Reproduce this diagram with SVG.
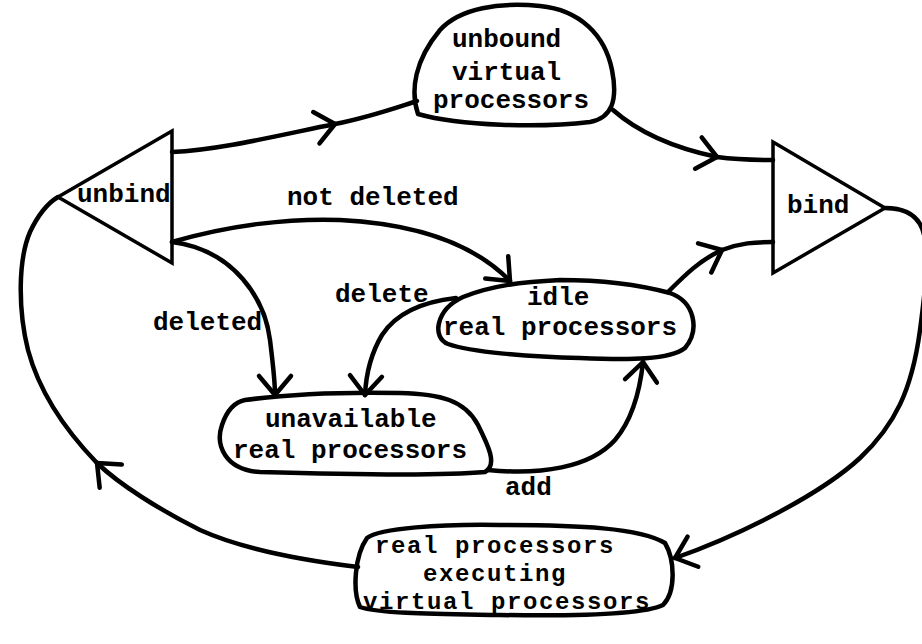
<svg xmlns="http://www.w3.org/2000/svg" width="922" height="644" viewBox="0 0 922 644">
  <style>
    .bg { fill: #ffffff; }
    .blob { fill: none; stroke: #000; stroke-width: 4.5; stroke-linejoin: round; }
    .tri { fill: none; stroke: #000; stroke-width: 3.5; stroke-linejoin: miter; }
    .edge { fill: none; stroke: #000; stroke-width: 4.5; stroke-linecap: round; stroke-linejoin: round; }
    .lbl { font-family: "Liberation Mono", "DejaVu Sans Mono", monospace; font-weight: bold; font-size: 26px; fill: #000; }
    .lbl.tight { font-size: 24px; letter-spacing: 1.6px; }
  </style>
  <defs>
    <marker id="arrow" markerUnits="userSpaceOnUse" viewBox="-24 -24 28 48" markerWidth="28" markerHeight="48" refX="0" refY="0" orient="auto" overflow="visible">
      <path d="M-19,-16 L0,0 L-19,16" fill="none" stroke="#000" stroke-width="4.5" stroke-linecap="round" stroke-linejoin="round"/>
    </marker>
  </defs>

  <rect class="bg" x="0" y="0" width="922" height="644"/>

  <!-- connectors -->
  <g id="connectors">
    <!-- unbind -> unbound virtual processors -->
    <path class="edge" d="M172,152 C220,150 280,135 335,124" marker-end="url(#arrow)"/>
    <path class="edge" d="M335,124 C370,117 395,108 417,101"/>
    <!-- unbound virtual processors -> bind -->
    <path class="edge" d="M613,110 C630,125 660,145 717,157" marker-end="url(#arrow)"/>
    <path class="edge" d="M717,157 C740,160 760,160 773,160"/>
    <!-- unbind -> idle (not deleted) -->
    <path class="edge" d="M172,242 C230,225 290,218 340,220 C420,224 475,245 510,281" marker-end="url(#arrow)"/>
    <!-- unbind -> unavailable (deleted) -->
    <path class="edge" d="M172,242 C235,250 265,300 270,340 C273,365 275,380 275,395" marker-end="url(#arrow)"/>
    <!-- idle -> unavailable (delete) -->
    <path class="edge" d="M456,298 C420,302 395,315 382,335 C370,355 366,375 365,395" marker-end="url(#arrow)"/>
    <!-- unavailable -> idle (add) -->
    <path class="edge" d="M488,470 C540,475 590,468 615,440 C632,420 640,390 643,362" marker-end="url(#arrow)"/>
    <!-- idle -> bind -->
    <path class="edge" d="M668,292 C685,275 700,260 722,250" marker-end="url(#arrow)"/>
    <path class="edge" d="M722,250 C740,243 755,242 773,242"/>
    <!-- bind -> executing -->
    <path class="edge" d="M885,208 C905,208 922,215 925,240 C928,270 924,300 920,330 C912,390 895,425 860,458 C820,495 740,535 675,558" marker-end="url(#arrow)"/>
    <!-- executing -> unbind -->
    <path class="edge" d="M358,567 C300,560 240,548 200,530 C160,510 120,485 97,463" marker-end="url(#arrow)"/>
    <path class="edge" d="M97,463 C70,435 40,395 28,350 C18,310 18,260 30,232 C38,215 48,203 58,197"/>
  </g>

  <!-- edge labels -->
  <g id="edge-labels">
    <text class="lbl" x="287" y="205">not deleted</text>
    <text class="lbl" x="153" y="330">deleted</text>
    <text class="lbl" x="335" y="302">delete</text>
    <text class="lbl" x="505" y="495">add</text>
  </g>

  <g id="unbind">
    <path class="tri" d="M172,131 L58,197 L172,263 Z"/>
    <text class="lbl" x="77" y="202">unbind</text>
  </g>

  <g id="bind">
    <path class="tri" d="M773,142 L885,208 L773,273 Z"/>
    <text class="lbl" x="787" y="213">bind</text>
  </g>

  <g id="unbound-virtual">
    <path class="blob" d="M418,114 C410,90 415,60 440,30 C460,8 500,2 540,6 C580,10 605,35 612,70 C618,100 612,118 590,122 C540,128 460,126 418,114 Z"/>
    <text class="lbl" x="452" y="47">unbound</text>
    <text class="lbl" x="452" y="80">virtual</text>
    <text class="lbl" x="433" y="108">processors</text>
  </g>

  <g id="idle-real">
    <path class="blob" d="M463,297 C490,286 520,282 560,280 C600,280 640,285 670,293 C695,302 700,330 685,348 C670,360 630,360 580,358 C530,357 470,352 448,344 C432,338 435,310 463,297 Z"/>
    <text class="lbl" x="527" y="305">idle</text>
    <text class="lbl" x="443" y="335">real processors</text>
  </g>

  <g id="unavailable-real">
    <path class="blob" d="M245,400 C290,394 350,392 400,393 C440,394 465,400 478,425 C488,445 498,465 485,472 C440,476 330,474 260,472 C225,470 215,445 222,425 C227,410 235,402 245,400 Z"/>
    <text class="lbl" x="265" y="427">unavailable</text>
    <text class="lbl" x="233" y="458">real processors</text>
  </g>

  <g id="executing">
    <path class="blob" d="M367,538 C380,528 440,524 500,525 C580,525 640,528 665,543 C675,560 676,592 663,605 C640,616 560,616 500,615 C440,614 380,614 360,607 C352,590 355,555 367,538 Z"/>
    <text class="lbl tight" x="375" y="553">real processors</text>
    <text class="lbl tight" x="423" y="581">executing</text>
    <text class="lbl tight" x="363" y="609">virtual processors</text>
  </g>
</svg>
